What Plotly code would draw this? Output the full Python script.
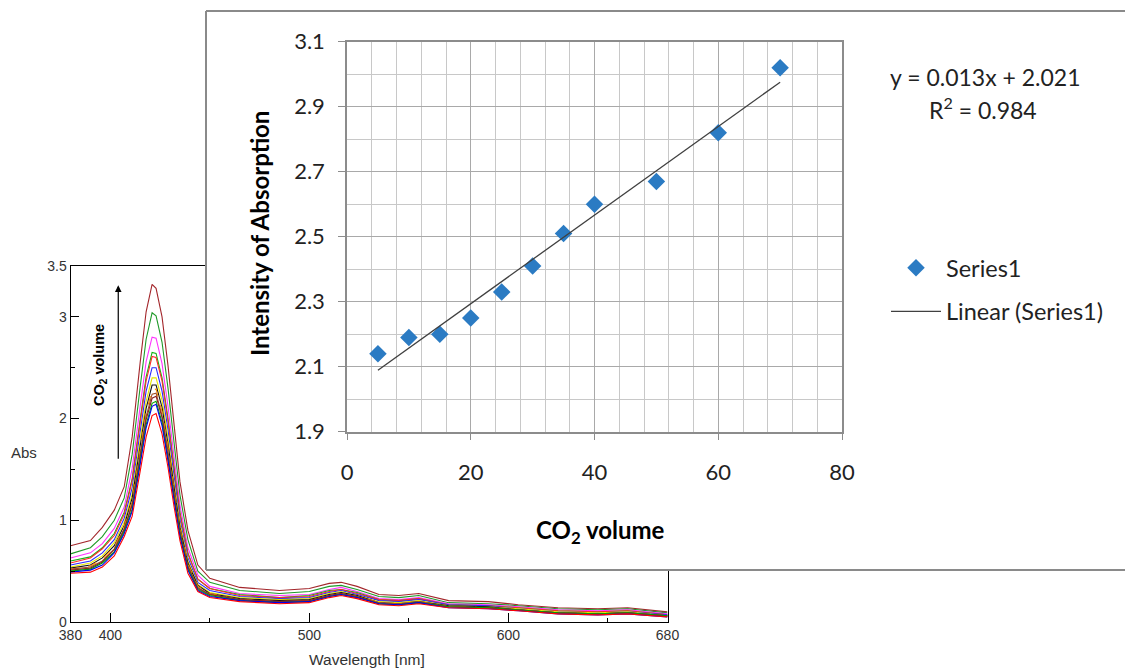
import numpy as np
import plotly.graph_objects as go

FIG_W, FIG_H = 1125, 669

# ---------------- background spectra (Abs vs wavelength) ----------------
wavelength = [380, 390, 396, 402, 407, 411, 415, 418, 421, 423, 426, 429, 432, 435, 439, 444, 450,
              465, 485, 500, 510, 516, 524, 535, 545, 555, 570, 590, 605, 625, 645, 660, 680]

abs_s01 = [0.75, 0.80, 0.93, 1.10, 1.33, 1.82, 2.55, 3.05, 3.32, 3.28, 3.00, 2.52, 1.95, 1.38, 0.90, 0.56, 0.43,
           0.34, 0.31, 0.33, 0.38, 0.39, 0.35, 0.27, 0.26, 0.28, 0.21, 0.20, 0.17, 0.14, 0.13, 0.14, 0.10]
abs_s02 = [0.67, 0.73, 0.84, 1.00, 1.22, 1.65, 2.31, 2.78, 3.04, 3.01, 2.75, 2.30, 1.77, 1.25, 0.81, 0.50, 0.39,
           0.31, 0.28, 0.30, 0.35, 0.36, 0.32, 0.25, 0.24, 0.26, 0.19, 0.18, 0.16, 0.13, 0.12, 0.13, 0.09]
abs_s03 = [0.63, 0.68, 0.77, 0.92, 1.13, 1.51, 2.12, 2.56, 2.80, 2.79, 2.54, 2.12, 1.63, 1.15, 0.73, 0.46, 0.35,
           0.28, 0.26, 0.27, 0.32, 0.34, 0.30, 0.23, 0.22, 0.24, 0.18, 0.17, 0.15, 0.12, 0.11, 0.12, 0.08]
abs_s04 = [0.60, 0.64, 0.73, 0.87, 1.08, 1.41, 1.99, 2.41, 2.65, 2.64, 2.40, 2.00, 1.53, 1.08, 0.68, 0.42, 0.33,
           0.27, 0.24, 0.26, 0.31, 0.32, 0.29, 0.22, 0.21, 0.23, 0.17, 0.16, 0.14, 0.11, 0.10, 0.11, 0.07]
abs_s05 = [0.58, 0.63, 0.72, 0.85, 1.06, 1.39, 1.96, 2.37, 2.61, 2.60, 2.37, 1.97, 1.50, 1.06, 0.67, 0.42, 0.33,
           0.26, 0.24, 0.25, 0.30, 0.32, 0.28, 0.22, 0.21, 0.23, 0.17, 0.16, 0.14, 0.11, 0.10, 0.11, 0.07]
abs_s06 = [0.56, 0.60, 0.68, 0.81, 1.02, 1.32, 1.87, 2.27, 2.50, 2.50, 2.27, 1.89, 1.44, 1.01, 0.63, 0.39, 0.31,
           0.25, 0.23, 0.24, 0.29, 0.31, 0.27, 0.21, 0.20, 0.22, 0.17, 0.16, 0.13, 0.10, 0.09, 0.10, 0.07]
abs_s07 = [0.54, 0.58, 0.65, 0.78, 0.98, 1.26, 1.79, 2.17, 2.40, 2.40, 2.18, 1.81, 1.37, 0.97, 0.60, 0.37, 0.29,
           0.24, 0.22, 0.23, 0.28, 0.30, 0.26, 0.20, 0.19, 0.21, 0.16, 0.15, 0.13, 0.10, 0.09, 0.10, 0.06]
abs_s08 = [0.53, 0.56, 0.63, 0.75, 0.95, 1.22, 1.73, 2.10, 2.33, 2.33, 2.11, 1.75, 1.33, 0.93, 0.58, 0.36, 0.28,
           0.23, 0.21, 0.22, 0.27, 0.29, 0.26, 0.19, 0.18, 0.20, 0.16, 0.15, 0.12, 0.09, 0.08, 0.09, 0.06]
abs_s09 = [0.52, 0.55, 0.62, 0.74, 0.94, 1.19, 1.69, 2.06, 2.28, 2.29, 2.07, 1.72, 1.30, 0.91, 0.57, 0.35, 0.28,
           0.22, 0.20, 0.21, 0.26, 0.28, 0.25, 0.19, 0.18, 0.20, 0.15, 0.14, 0.12, 0.09, 0.08, 0.09, 0.06]
abs_s10 = [0.52, 0.54, 0.60, 0.72, 0.92, 1.16, 1.65, 2.02, 2.24, 2.25, 2.03, 1.68, 1.27, 0.89, 0.55, 0.34, 0.27,
           0.22, 0.20, 0.21, 0.26, 0.28, 0.25, 0.19, 0.18, 0.20, 0.15, 0.14, 0.12, 0.09, 0.08, 0.09, 0.06]
abs_s11 = [0.51, 0.53, 0.59, 0.71, 0.91, 1.15, 1.62, 1.99, 2.20, 2.22, 2.01, 1.65, 1.25, 0.88, 0.54, 0.33, 0.27,
           0.22, 0.20, 0.21, 0.26, 0.28, 0.25, 0.18, 0.17, 0.19, 0.15, 0.14, 0.12, 0.09, 0.08, 0.09, 0.06]
abs_s12 = [0.50, 0.52, 0.58, 0.69, 0.89, 1.11, 1.58, 1.94, 2.15, 2.17, 1.96, 1.61, 1.22, 0.86, 0.52, 0.32, 0.26,
           0.21, 0.19, 0.20, 0.25, 0.27, 0.24, 0.18, 0.17, 0.19, 0.15, 0.14, 0.12, 0.09, 0.08, 0.09, 0.06]
abs_s13 = [0.49, 0.51, 0.56, 0.68, 0.87, 1.09, 1.55, 1.91, 2.12, 2.14, 1.93, 1.59, 1.20, 0.84, 0.51, 0.31, 0.25,
           0.21, 0.19, 0.20, 0.25, 0.27, 0.24, 0.18, 0.17, 0.19, 0.14, 0.13, 0.11, 0.08, 0.07, 0.08, 0.05]
abs_s14 = [0.48, 0.49, 0.54, 0.65, 0.84, 1.04, 1.48, 1.82, 2.03, 2.05, 1.85, 1.52, 1.14, 0.80, 0.48, 0.30, 0.24,
           0.20, 0.18, 0.19, 0.24, 0.26, 0.23, 0.17, 0.16, 0.18, 0.14, 0.13, 0.11, 0.08, 0.07, 0.08, 0.05]

spectra = [abs_s01, abs_s02, abs_s03, abs_s04, abs_s05, abs_s06, abs_s07,
           abs_s08, abs_s09, abs_s10, abs_s11, abs_s12, abs_s13, abs_s14]
spectra_colors = ["#a3262b", "#1f9a2a", "#ff33ff", "#12b312", "#ff2a2a", "#2a2aff", "#e6e600",
                  "#111111", "#ff8c00", "#a0522d", "#8b2020", "#00a000", "#0000ee", "#ff0000"]
spectra_dash = ["solid"] * 8 + ["dash"] + ["solid"] * 5

spec_xticks = [380, 400, 500, 600, 680]
spec_xminor = [450, 550, 650]
spec_yticks = [0, 1, 2, 3, 3.5]
spec_yticklabels = ["0", "1", "2", "3", "3.5"]
spec_yminor = [0.5, 1.5, 2.5]

# ---------------- inset (calibration) ----------------
co2_volume = [5, 10, 15, 20, 25, 30, 35, 40, 50, 60, 70]
intensity = [2.14, 2.19, 2.20, 2.25, 2.33, 2.41, 2.51, 2.60, 2.67, 2.82, 3.02]

slope, intercept = np.polyfit(co2_volume, intensity, 1)
fit_x = [min(co2_volume), max(co2_volume)]
fit_y = [slope * v + intercept for v in fit_x]


def px(x):
    return x / FIG_W


def py(y):
    return 1 - y / FIG_H


SPEC_FONT = "Liberation Sans, Arial, sans-serif"
INSET_FONT = "Lato, 'Open Sans', sans-serif"

fig = go.Figure()

for vals, col, dsh in zip(spectra, spectra_colors, spectra_dash):
    fig.add_trace(go.Scatter(x=wavelength, y=vals, mode="lines",
                             line=dict(color=col, width=1.1, dash=dsh),
                             xaxis="x", yaxis="y", showlegend=False, hoverinfo="skip"))

# white covering panel (subplot drawn above the spectra)
fig.add_trace(go.Scatter(x=[], y=[], xaxis="x2", yaxis="y2", showlegend=False))

# inset data
fig.add_trace(go.Scatter(x=co2_volume, y=intensity, mode="markers", name="Series1",
                         marker=dict(symbol="diamond", size=13.5, color="#2b7bc3"),
                         xaxis="x3", yaxis="y3", legendgroup="a"))
fig.add_trace(go.Scatter(x=fit_x, y=fit_y, mode="lines", name="Linear (Series1)",
                         line=dict(color="#404040", width=1.3),
                         xaxis="x3", yaxis="y3", legendgroup="b"))

fig.update_layout(
    width=FIG_W, height=FIG_H, autosize=False,
    margin=dict(l=0, r=0, t=0, b=0, pad=0, autoexpand=False),
    paper_bgcolor="white", plot_bgcolor="white",
    xaxis=dict(domain=[px(70.5), px(667.5)], range=[380, 680], anchor="y", automargin=False,
               showline=True, linecolor="black", linewidth=1, mirror=True,
               showgrid=False, zeroline=False,
               tickmode="array", tickvals=spec_xticks, ticktext=[str(v) for v in spec_xticks],
               ticks="inside", ticklen=9, tickcolor="black",
               minor=dict(tickvals=spec_xminor, ticks="inside", ticklen=4, tickcolor="black", showgrid=False),
               tickfont=dict(family=SPEC_FONT, size=14, color="#333")),
    yaxis=dict(domain=[py(622), py(266)], range=[0, 3.5], anchor="x", automargin=False,
               showline=True, linecolor="black", linewidth=1, mirror=True,
               showgrid=False, zeroline=False,
               tickmode="array", tickvals=spec_yticks, ticktext=spec_yticklabels,
               ticks="inside", ticklen=8, tickcolor="black",
               minor=dict(tickvals=spec_yminor, ticks="inside", ticklen=4, tickcolor="black", showgrid=False),
               tickfont=dict(family=SPEC_FONT, size=14, color="#333")),
    xaxis2=dict(domain=[px(206), 1.0], range=[0, 1], anchor="y2", visible=False, automargin=False),
    yaxis2=dict(domain=[py(570), py(11)], range=[0, 1], anchor="x2", visible=False, automargin=False),
    xaxis3=dict(domain=[px(347), px(842)], range=[0, 80], anchor="y3", automargin=False,
                showline=True, linecolor="#8c8c8c", linewidth=1.5, mirror=True,
                zeroline=False, showgrid=True, gridcolor="#a9a9a9", gridwidth=1.3,
                dtick=20, tick0=0, ticks="outside", ticklen=7, tickcolor="#8c8c8c",
                ticklabelstandoff=13,
                minor=dict(dtick=4, showgrid=True, gridcolor="#c8c8c8", gridwidth=1.3, ticks=""),
                tickfont=dict(family=INSET_FONT, size=22, color="#222")),
    yaxis3=dict(domain=[py(431.7), py(41.7)], range=[1.9, 3.1], anchor="x3", automargin=False,
                showline=True, linecolor="#8c8c8c", linewidth=1.5, mirror=True,
                zeroline=False, showgrid=True, gridcolor="#a9a9a9", gridwidth=1.3,
                dtick=0.2, tick0=1.9, tickformat=".1f", ticks="outside", ticklen=7, tickcolor="#8c8c8c",
                ticklabelstandoff=9,
                minor=dict(dtick=0.1, showgrid=True, gridcolor="#c8c8c8", gridwidth=1.3, ticks=""),
                tickfont=dict(family=INSET_FONT, size=22, color="#222")),
    legend=dict(x=px(886), y=py(246), xanchor="left", yanchor="top",
                bgcolor="rgba(0,0,0,0)", borderwidth=0,
                font=dict(family=INSET_FONT, size=23.5, color="#222"),
                traceorder="grouped", tracegroupgap=10, itemwidth=50),
    showlegend=True,
)

# inset panel border
border = dict(color="#8a8a8a", width=2)
fig.add_shape(type="line", xref="paper", yref="paper", x0=px(206), x1=1.01, y0=py(11), y1=py(11), line=border, layer="above")
fig.add_shape(type="line", xref="paper", yref="paper", x0=px(206), x1=1.01, y0=py(570), y1=py(570), line=border, layer="above")
fig.add_shape(type="line", xref="paper", yref="paper", x0=px(206), x1=px(206), y0=py(570), y1=py(11), line=border, layer="above")

annotations = [
    # spectra chart texts
    dict(text="Abs", x=px(9), y=py(452), xanchor="left", yanchor="middle",
         font=dict(family=SPEC_FONT, size=15, color="#333")),
    dict(text="Wavelength [nm]", x=px(367), y=py(659), xanchor="center", yanchor="middle",
         font=dict(family=SPEC_FONT, size=15.5, color="#333")),
    dict(text="<b>CO<sub>2</sub> volume</b>", x=px(100), y=py(365), xanchor="center", yanchor="middle",
         textangle=-90, font=dict(family=SPEC_FONT, size=14.5, color="black")),
    # inset texts
    dict(text="<b>Intensity of Absorption</b>", x=px(259), y=py(234), xanchor="center", yanchor="middle",
         textangle=-90, font=dict(family=INSET_FONT, size=24, color="black")),
    dict(text="<b>CO<sub>2</sub> volume</b>", x=px(600), y=py(531), xanchor="center", yanchor="middle",
         font=dict(family=INSET_FONT, size=24, color="black")),
    dict(text="y = 0.013x + 2.021", x=px(985), y=py(77), xanchor="center", yanchor="middle",
         font=dict(family=INSET_FONT, size=23, color="#222")),
    dict(text="R<sup>2</sup> = 0.984", x=px(983), y=py(108), xanchor="center", yanchor="middle",
         font=dict(family=INSET_FONT, size=23, color="#222")),
]
for a in annotations:
    a.update(xref="paper", yref="paper", showarrow=False)
    fig.add_annotation(**a)

# arrow indicating increasing CO2 volume
fig.add_annotation(x=404, y=3.31, ax=404, ay=1.59, xref="x", yref="y", axref="x", ayref="y",
                   text="", showarrow=True, arrowhead=2, arrowsize=1.1, arrowwidth=1.2, arrowcolor="black")

fig.write_html("out.html")
